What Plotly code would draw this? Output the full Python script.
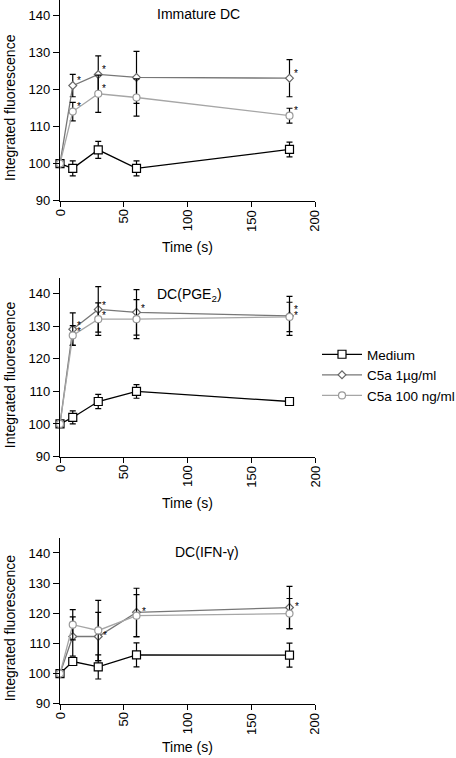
import plotly.graph_objects as go

W, H = 456, 758

# ---------------- data ----------------
time_s = [0, 10, 30, 60, 180]
series_names = ["Medium", "C5a 1µg/ml", "C5a 100 ng/ml"]
panel_titles = ["Immature DC", "DC(PGE<sub>2</sub>)", "DC(IFN-γ)"]
x_ticks = [0, 50, 100, 150, 200]
x_tick_labels = ["0", "50", "100", "150", "200"]
y_ticks = [90, 100, 110, 120, 130, 140]

# Immature DC
imm_medium = [100, 98.7, 103.7, 98.7, 103.8]
imm_medium_err = [0, 2, 2.3, 2, 2]
imm_c5a1 = [100, 121, 124, 123.2, 123]
imm_c5a1_err = [0, 3, 5, 7, 5]
imm_c5a100 = [100, 114, 118.8, 117.8, 112.9]
imm_c5a100_err = [0, 2.5, 5, 5, 2]

# DC(PGE2)
pge_medium = [100, 102, 106.9, 110, 106.9]
pge_medium_err = [0, 2, 2.2, 2.1, 0.4]
pge_c5a1 = [100, 129.1, 135.2, 134.3, 133.2]
pge_c5a1_err = [0, 5, 7, 7, 6]
pge_c5a100 = [100, 127.2, 132.2, 132.2, 132.9]
pge_c5a100_err = [0, 3, 5, 6, 4.5]

# DC(IFN-gamma)
ifn_medium = [100, 104, 102.2, 106.2, 106.1]
ifn_medium_err = [0, 1, 4, 4, 4]
ifn_c5a1 = [100, 112.3, 112.3, 120.3, 121.9]
ifn_c5a1_err = [0, 6.5, 8, 8, 7]
ifn_c5a100 = [100, 116.2, 114.3, 119.2, 119.9]
ifn_c5a100_err = [0, 5, 10, 7, 5]

# significance asterisks: indices into time_s per series (medium, c5a1, c5a100)
imm_stars = [[], [1, 2, 4], [1, 2, 4]]
pge_stars = [[], [1, 2, 3, 4], [1, 2, 4]]
ifn_stars = [[], [2, 3, 4], []]

panels = [
    ([imm_medium, imm_c5a1, imm_c5a100], [imm_medium_err, imm_c5a1_err, imm_c5a100_err], imm_stars),
    ([pge_medium, pge_c5a1, pge_c5a100], [pge_medium_err, pge_c5a1_err, pge_c5a100_err], pge_stars),
    ([ifn_medium, ifn_c5a1, ifn_c5a100], [ifn_medium_err, ifn_c5a1_err, ifn_c5a100_err], ifn_stars),
]

# ---------------- styles ----------------
FONT = "Liberation Sans, Arial, Helvetica, sans-serif"
line_colors = ["#000000", "#777777", "#a6a6a6"]
marker_line_colors = ["#000000", "#666666", "#9a9a9a"]
symbols = ["square", "diamond", "circle"]
marker_sizes = [8, 6, 7]

# pixel layout (top px, bottom px) of each plot and its y range
panel_px = [(0.2, 200.7), (277.5, 456.5), (537.9, 703.7)]
y_ranges = [[90, 144], [90, 145], [90, 145]]
x_left, x_right = 60, 315
title_px = [(155, 14), (155, 295), (173, 552)]
xtitle_py = [247, 503, 747]
star_shift = [(6, 5), (6, 4), (7, 1)]
STAR_MIN_GAP = 6  # px between stacked asterisks at the same time point


def pdom(top, bot):
    return [1 - bot / H, 1 - top / H]


fig = go.Figure()
annotations = []

for p, (vals, errs, stars) in enumerate(panels):
    xa = "x" if p == 0 else f"x{p+1}"
    ya = "y" if p == 0 else f"y{p+1}"
    top, bot = panel_px[p]
    px_per_unit = (bot - top) / (y_ranges[p][1] - y_ranges[p][0])
    for s in range(3):
        fig.add_trace(go.Scatter(
            x=time_s, y=vals[s], xaxis=xa, yaxis=ya,
            mode="lines+markers", name=series_names[s],
            showlegend=(p == 1),
            line=dict(color=line_colors[s], width=1.3),
            marker=dict(symbol=symbols[s], size=marker_sizes[s], color="white",
                        line=dict(color=marker_line_colors[s], width=1.2)),
            error_y=dict(type="data", array=errs[s], visible=True,
                         color="black", thickness=1.2, width=3),
            cliponaxis=False,
        ))
    # asterisks; separate the ones that would sit on top of each other
    for i in range(len(time_s)):
        here = [s for s in range(3) if i in stars[s]]
        shifts = {s: star_shift[p][1] for s in here}
        if len(here) == 2:
            a, b = here
            gap = (vals[a][i] - vals[b][i]) * px_per_unit
            if abs(gap) < STAR_MIN_GAP:
                hi, lo = (a, b) if gap >= 0 else (b, a)
                extra = (STAR_MIN_GAP - abs(gap)) / 2
                shifts[hi] += extra
                shifts[lo] -= extra
        for s in here:
            annotations.append(dict(
                x=time_s[i], y=vals[s][i], xref=xa, yref=ya, text="*",
                showarrow=False, xshift=star_shift[p][0], yshift=shifts[s],
                font=dict(size=10, color="#000000", family=FONT),
            ))
    axis_common = dict(showline=True, linecolor="black", linewidth=1.3,
                       ticks="outside", tickcolor="black", tickwidth=1.2,
                       showgrid=False, zeroline=False, automargin=False,
                       tickfont=dict(size=13, color="black", family=FONT))
    fig.update_layout(**{
        ("xaxis" if p == 0 else f"xaxis{p+1}"): dict(
            domain=[x_left / W, x_right / W], range=[0, 200], anchor=ya,
            tickvals=x_ticks, ticklen=5, showticklabels=False,
            **axis_common),
        ("yaxis" if p == 0 else f"yaxis{p+1}"): dict(
            domain=pdom(top, bot), range=y_ranges[p], anchor=xa,
            tickvals=y_ticks, ticklen=6, **axis_common),
    })
    # rotated x tick labels (reading bottom-to-top)
    for tv, tl in zip(x_ticks, x_tick_labels):
        annotations.append(dict(x=tv, xref=xa, y=y_ranges[p][0], yref=ya,
                                text=tl, textangle=-90, showarrow=False,
                                xanchor="center", yanchor="top", yshift=-7,
                                font=dict(size=13, color="black", family=FONT)))
    # axis titles and panel title
    annotations.append(dict(x=10 / W, xref="paper", y=115, yref=ya,
                            text="Integrated fluorescence", textangle=-90,
                            showarrow=False, xanchor="center", yanchor="middle",
                            font=dict(size=14, color="black", family=FONT)))
    annotations.append(dict(x=(x_left + x_right) / 2 / W, xref="paper",
                            y=1 - xtitle_py[p] / H, yref="paper",
                            text="Time (s)", showarrow=False,
                            xanchor="center", yanchor="middle",
                            font=dict(size=14, color="black", family=FONT)))
    annotations.append(dict(x=title_px[p][0] / W, xref="paper",
                            y=1 - title_px[p][1] / H, yref="paper",
                            text=panel_titles[p], showarrow=False,
                            xanchor="left", yanchor="middle",
                            font=dict(size=14, color="black", family=FONT)))

fig.update_layout(
    template="simple_white",
    width=W, height=H,
    margin=dict(l=0, r=0, t=0, b=0, autoexpand=False),
    paper_bgcolor="white", plot_bgcolor="white",
    font=dict(family=FONT, color="black"),
    annotations=annotations,
    legend=dict(x=317 / W, y=1 - 339 / H, xanchor="left", yanchor="top",
                itemwidth=40,
                font=dict(size=13.5, color="black", family=FONT),
                bgcolor="rgba(0,0,0,0)", borderwidth=0, tracegroupgap=0),
)

fig.write_html("out.html", post_script="document.body.style.margin='0';",
               config={"displayModeBar": False})
